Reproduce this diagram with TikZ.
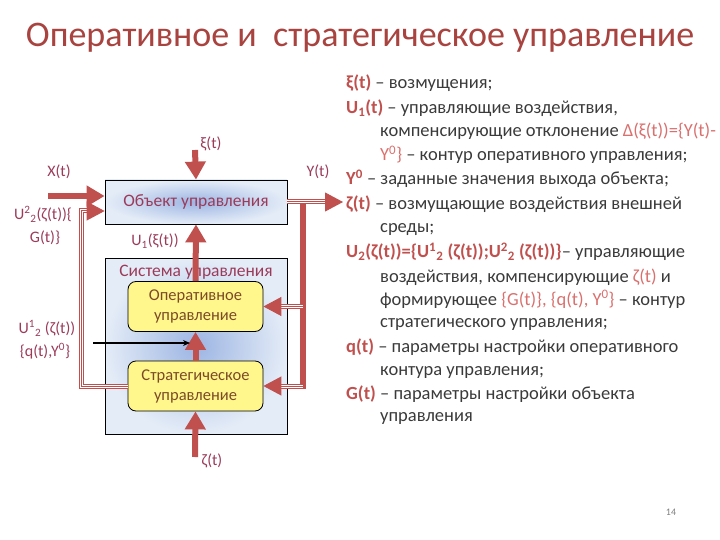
\documentclass[tikz,border=0pt]{standalone}
\usepackage{fontspec}
\setmainfont{Carlito}
\usetikzlibrary{arrows.meta,calc}
\definecolor{arrred}{HTML}{C0504D}
\definecolor{titlered}{HTML}{A8433F}
\definecolor{lblred}{HTML}{9B3B5A}
\definecolor{brownt}{HTML}{7B4B26}
\definecolor{bodyg}{HTML}{3A3A3A}
\definecolor{lightr}{HTML}{D9706E}
\definecolor{boxin}{HTML}{9DB5E3}
\definecolor{boxout}{HTML}{E4ECF7}
\definecolor{yell}{HTML}{FFF68C}
\newcommand{\trm}[1]{\textcolor{arrred}{\textbf{#1}}}
\newcommand{\lrd}[1]{\textcolor{lightr}{#1}}
\begin{document}
\begin{tikzpicture}[x=1pt,y=-1pt,
  bluebox/.style={draw=black, line width=0.8pt, inner color=boxin, outer color=boxout, minimum width=182pt, inner sep=0pt},
  yelbox/.style={draw=black, line width=0.8pt, fill=yell, rounded corners=8pt, minimum width=135pt, minimum height=50pt, align=center, text=brownt, font=\fontsize{16.5}{20}\selectfont},
  lbl/.style={text=lblred, font=\fontsize{16}{18}\selectfont, inner sep=0pt},
  bigarrow/.style={draw=arrred, line width=6pt, -{Triangle[length=18pt,width=20pt]}},
  tline/.style={draw=arrred, line width=5pt, postaction={draw=white,line width=3pt}, postaction={draw=arrred,line width=1pt}},
  tip/.style={draw=arrred, line width=1pt, -{Triangle[length=18pt,width=19pt]}},
  rt/.style={anchor=base west, inner sep=0pt, text=bodyg, font=\fontsize{18.5}{21}\selectfont}]
\useasboundingbox (0,0) rectangle (720,540);

% title
\node[font=\fontsize{36}{40}\selectfont, text=titlered] (title) at (360,38) {Оперативное и~ стратегическое управление};

% boxes
\node[bluebox, minimum height=176pt] (sys) at (196,346) {};
\node[bluebox, minimum height=44pt, text=lblred, font=\fontsize{17.5}{20}\selectfont] (obj) at (196,202) {Объект управления};
\node[lbl, font=\fontsize{17.5}{20}\selectfont] (syslbl) at (196,272) {Система управления};
\node[yelbox] (oper) at (195.5,306.5) {Оперативное\\управление};
\node[yelbox] (strat) at (195.5,386) {Стратегическое\\управление};

% coordinates
\coordinate (xiS) at (195,150);
\coordinate (xS) at (48,196);
\coordinate (zS) at (195,457);
\coordinate (outA) at (325,202);
\coordinate (outE) at (343,202);
\coordinate (vTop) at (303,202);
\coordinate (vBot) at (303,389);
\coordinate (lB) at (81.5,386);
\coordinate (lT) at (81.5,211);
\coordinate (lA) at (87,211);
\coordinate (bS) at (93,343);
\coordinate (bE) at (190,343);

% thick arrows
\draw[bigarrow] (xiS) -- (obj.north);
\draw[bigarrow] (xS) -- (xS -| obj.west);
\draw[bigarrow] (oper.north) -- (obj.south);
\draw[bigarrow] (strat.north) -- (oper.south);
\draw[bigarrow] (zS) -- (strat.south);

% feedback right
\draw[arrred, line width=6pt] (vTop) -- (vBot);
\draw[tline] (obj.east) -- (outA);
\draw[tip] (outA) -- (outE);
\draw[tline] (vTop |- oper.east) -- ($(oper.east)+(18,0)$);
\draw[tip] ($(oper.east)+(18,0)$) -- (oper.east);
\draw[tline] (vBot |- strat.east) -- ($(strat.east)+(18,0)$);
\draw[tip] ($(strat.east)+(18,0)$) -- (strat.east);

% left strategic loop
\draw[tline] (strat.west) -- (lB) -- (lT) -- (lA);
\draw[tip] (lA) -- (lA -| obj.west);

% black arrow
\draw[line width=1.3pt, -{Stealth[length=7pt,width=6pt]}] (bS) -- (bE);

% labels
\node[lbl] (lxi) at (211,144) {ξ(t)};
\node[lbl] (lx) at (59,172) {X(t)};
\node[lbl] (ly) at (318,172) {Y(t)};
\node[lbl] (lu22a) at (43,214) {U\textsuperscript{2}\textsubscript{2}(ζ(t))\{};
\node[lbl] (lu22b) at (45,238) {G(t)\}};
\node[lbl] (lu1) at (155,241) {U\textsubscript{1}(ξ(t))};
\node[lbl] (lu12a) at (47,328) {U\textsuperscript{1}\textsubscript{2} (ζ(t))};
\node[lbl] (lu12b) at (45,351) {\{q(t),Y\textsuperscript{0}\}};
\node[lbl] (lz) at (212,461) {ζ(t)};

% right text
\node[rt] (t1) at (346,89) {\trm{ξ(t)} – возмущения;};
\node[rt] (t2) at (346,114) {\trm{U\textsubscript{1}(t)} – управляющие воздействия,};
\node[rt] (t3) at (380,137) {компенсирующие отклонение \lrd{Δ(ξ(t))=\{Y(t)-}};
\node[rt] (t4) at (380,161) {\lrd{Y\textsuperscript{0}\}} – контур оперативного управления;};
\node[rt] (t5) at (346,185) {\trm{Y\textsuperscript{0}} – заданные значения выхода объекта;};
\node[rt] (t6) at (346,210) {\trm{ζ(t)} – возмущающие воздействия внешней};
\node[rt] (t7) at (380,233) {среды;};
\node[rt] (t8) at (346,258) {\trm{U\textsubscript{2}(ζ(t))=\{U\textsuperscript{1}\textsubscript{2} (ζ(t));U\textsuperscript{2}\textsubscript{2} (ζ(t))\}}– управляющие};
\node[rt] (t9) at (380,282) {воздействия, компенсирующие \lrd{ζ(t)} и};
\node[rt] (t10) at (380,305) {формирующее \lrd{\{G(t)\}, \{q(t), Y\textsuperscript{0}\}} – контур};
\node[rt] (t11) at (380,327) {стратегического управления;};
\node[rt] (t12) at (346,352) {\trm{q(t)} – параметры настройки оперативного};
\node[rt] (t13) at (380,375) {контура управления;};
\node[rt] (t14) at (346,399) {\trm{G(t)} – параметры настройки объекта};
\node[rt] (t15) at (380,421) {управления};

\node[text=gray, font=\fontsize{10}{12}\selectfont] (pg) at (671,512) {14};
\end{tikzpicture}
\end{document}
